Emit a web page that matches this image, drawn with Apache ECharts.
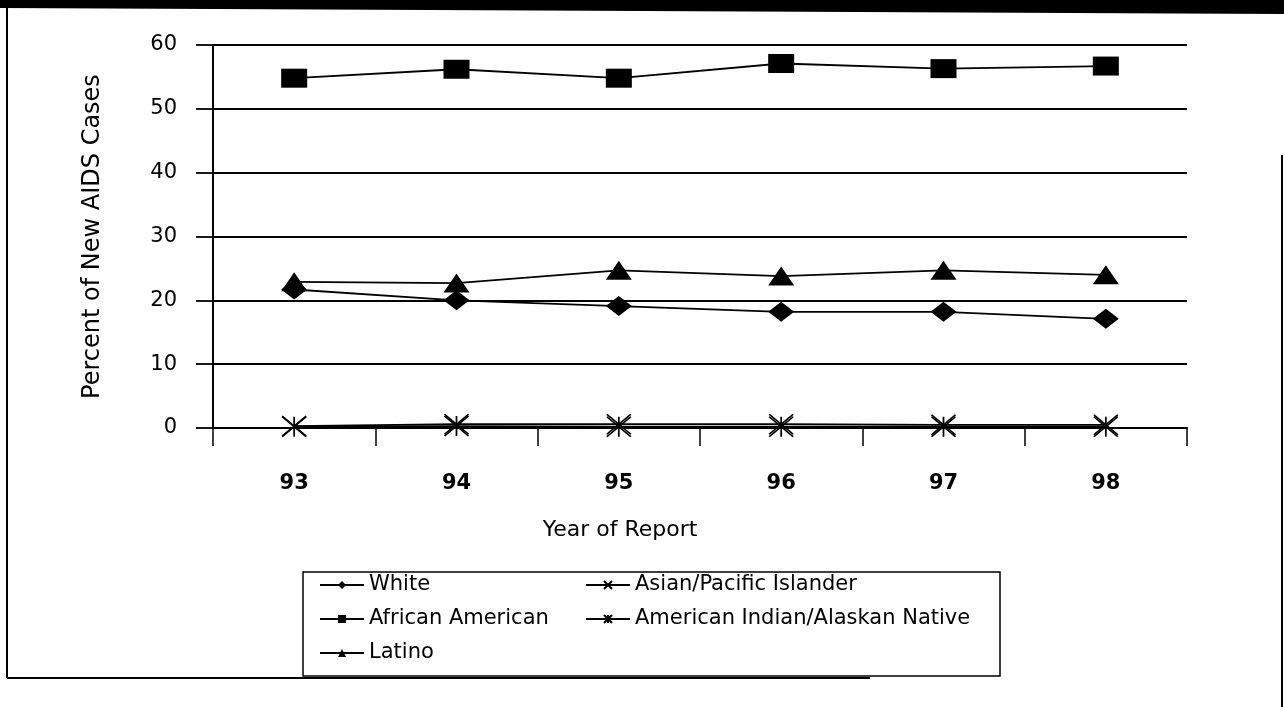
<!DOCTYPE html>
<html>
<head>
<meta charset="utf-8">
<title>Percent of New AIDS Cases</title>
<script src="https://cdn.jsdelivr.net/npm/echarts@6/dist/echarts.min.js"></script>
<style>
	html, body { margin: 0; padding: 0; background: #fff; }
	#chart { width: 1284px; height: 707px; }
</style>
</head>
<body>
<div id="chart"></div>
<script>
// 数据
var years = ['93', '94', '95', '96', '97', '98'];
var yMin = 0, yMax = 60, yStep = 10;

var white = [21.7, 20.0, 19.1, 18.2, 18.2, 17.1];
var africanAmerican = [54.8, 56.2, 54.8, 57.1, 56.3, 56.7];
var latino = [22.9, 22.7, 24.7, 23.8, 24.7, 24.0];
var asianPacific = [0.3, 0.6, 0.6, 0.6, 0.5, 0.5];
var americanIndian = [0.2, 0.3, 0.2, 0.2, 0.2, 0.2];

var font = 'DejaVu Sans';
var crossPath = 'path://M0,0L24,20M24,0L0,20';           // x marker
var starPath = 'path://M0,0L24,20M24,0L0,20M12,0L12,20';  // asterisk marker

function lineSeries(name, data, symbol, size, stroked) {
	return {
		name: name,
		type: 'line',
		data: data,
		symbol: symbol,
		symbolSize: size,
		showAllSymbol: true,
		silent: true,
		lineStyle: { color: '#000', width: 1.8 },
		itemStyle: {
			color: '#000',
			borderColor: '#000',
			borderWidth: stroked ? 1.6 : 0
		},
		emphasis: { disabled: true }
	};
}

var legendText = { fontFamily: font, fontSize: 21, lineHeight: 22, color: '#000' };

var chart = echarts.init(document.getElementById('chart'));
var option = {
	animation: false,
	backgroundColor: '#fff',
	textStyle: { fontFamily: font, color: '#000' },
	grid: { left: 213, right: 97, top: 45, bottom: 279 },
	legend: [{
		orient: 'vertical',
		left: 319, top: 574,
		padding: 0,
		itemWidth: 44, itemHeight: 10, itemGap: 12,
		selectedMode: false,
		textStyle: legendText,
		data: ['White', 'African American', 'Latino']
	}, {
		orient: 'vertical',
		left: 585, top: 574,
		padding: 0,
		itemWidth: 44, itemHeight: 10, itemGap: 12,
		selectedMode: false,
		textStyle: legendText,
		data: ['Asian/Pacific Islander', 'American Indian/Alaskan Native']
	}],
	xAxis: {
		type: 'category',
		data: years,
		boundaryGap: true,
		name: 'Year of Report',
		nameLocation: 'middle',
		nameGap: 91,
		nameTextStyle: { fontFamily: font, fontSize: 22, color: '#000', padding: [0, 160, 0, 0] },
		axisLine: { lineStyle: { color: '#000', width: 2 } },
		axisTick: { show: true, length: 18, interval: 0, lineStyle: { color: '#000', width: 1.5 } },
		axisLabel: { margin: 45, fontFamily: font, fontSize: 21, fontWeight: 'bold', color: '#000' },
		splitLine: { show: false }
	},
	yAxis: {
		type: 'value',
		min: yMin, max: yMax, interval: yStep,
		name: 'Percent of New AIDS Cases',
		nameLocation: 'middle',
		nameGap: 108,
		nameTextStyle: { fontFamily: font, fontSize: 24, color: '#000' },
		axisLine: { show: true, lineStyle: { color: '#000', width: 2 } },
		axisTick: { show: true, length: 17, lineStyle: { color: '#000', width: 1.8 } },
		axisLabel: { margin: 36, fontFamily: font, fontSize: 21, color: '#000' },
		splitLine: { show: true, lineStyle: { color: '#000', width: 1.8 } }
	},
	series: [
		lineSeries('White', white, 'diamond', [26, 20], false),
		lineSeries('African American', africanAmerican, 'rect', [26, 19], false),
		lineSeries('Latino', latino, 'triangle', [26, 19], false),
		lineSeries('Asian/Pacific Islander', asianPacific, crossPath, [24, 20], true),
		lineSeries('American Indian/Alaskan Native', americanIndian, starPath, [24, 20], true)
	],
	// scan frame + legend box
	graphic: [
		{ type: 'polygon', silent: true, shape: { points: [[0, 0], [1284, 0], [1284, 14], [0, 8]] }, style: { fill: '#000' } },
		{ type: 'line', silent: true, shape: { x1: 7, y1: 8, x2: 7, y2: 678 }, style: { stroke: '#000', lineWidth: 2 } },
		{ type: 'line', silent: true, shape: { x1: 7, y1: 678, x2: 870, y2: 678 }, style: { stroke: '#000', lineWidth: 2 } },
		{ type: 'line', silent: true, shape: { x1: 1282, y1: 155, x2: 1282, y2: 707 }, style: { stroke: '#000', lineWidth: 2 } },
		{ type: 'rect', silent: true, shape: { x: 303, y: 572, width: 697, height: 104 }, style: { fill: 'none', stroke: '#000', lineWidth: 1.5 } }
	]
};
chart.setOption(option);
</script>
</body>
</html>
